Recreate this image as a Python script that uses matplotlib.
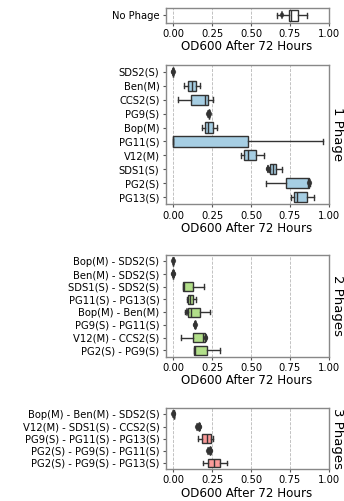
import matplotlib
matplotlib.use("Agg")
import matplotlib.pyplot as plt

# data: whisker low, q1, median, q3, whisker high, fliers
none_labels = ["No Phage"]
none_lo = [0.67]
none_q1 = [0.745]
none_med = [0.76]
none_q3 = [0.805]
none_hi = [0.86]
none_fl = [[0.70]]

one_labels = ["SDS2(S)", "Ben(M)", "CCS2(S)", "PG9(S)", "Bop(M)", "PG11(S)",
              "V12(M)", "SDS1(S)", "PG2(S)", "PG13(S)"]
one_lo = [0.0, 0.065, 0.032, 0.228, 0.185, -0.005, 0.435, 0.615, 0.598, 0.758]
one_q1 = [0.0, 0.092, 0.116, 0.228, 0.203, -0.005, 0.458, 0.620, 0.727, 0.780]
one_med = [0.0, 0.118, 0.204, 0.228, 0.226, -0.005, 0.482, 0.640, 0.867, 0.800]
one_q3 = [0.0, 0.147, 0.224, 0.228, 0.252, 0.479, 0.535, 0.663, 0.877, 0.862]
one_hi = [0.0, 0.169, 0.253, 0.228, 0.284, 0.966, 0.582, 0.699, 0.882, 0.908]
one_fl = [[-0.002, 0.0, 0.002], [], [], [0.224, 0.227, 0.230, 0.233], [], [],
          [], [0.610, 0.613], [0.876, 0.880], []]

two_labels = ["Bop(M) - SDS2(S)", "Ben(M) - SDS2(S)", "SDS1(S) - SDS2(S)",
              "PG11(S) - PG13(S)", "Bop(M) - Ben(M)", "PG9(S) - PG11(S)",
              "V12(M) - CCS2(S)", "PG2(S) - PG9(S)"]
two_lo = [0.0, 0.0, 0.060, 0.088, 0.073, 0.142, 0.050, 0.131]
two_q1 = [0.0, 0.0, 0.062, 0.093, 0.095, 0.142, 0.125, 0.132]
two_med = [0.0, 0.0, 0.066, 0.105, 0.112, 0.142, 0.192, 0.136]
two_q3 = [0.0, 0.0, 0.128, 0.124, 0.170, 0.142, 0.203, 0.217]
two_hi = [0.0, 0.0, 0.194, 0.145, 0.238, 0.142, 0.212, 0.302]
two_fl = [[-0.001, 0.001], [-0.001, 0.0, 0.002, 0.003], [], [], [0.085],
          [0.139, 0.142, 0.145], [0.207, 0.211], []]

three_labels = ["Bop(M) - Ben(M) - SDS2(S)", "V12(M) - SDS1(S) - CCS2(S)",
                "PG9(S) - PG11(S) - PG13(S)", "PG2(S) - PG9(S) - PG11(S)",
                "PG2(S) - PG9(S) - PG13(S)"]
three_lo = [0.003, 0.163, 0.158, 0.235, 0.193]
three_q1 = [0.003, 0.163, 0.186, 0.235, 0.225]
three_med = [0.003, 0.163, 0.217, 0.235, 0.260]
three_q3 = [0.003, 0.163, 0.239, 0.235, 0.302]
three_hi = [0.003, 0.163, 0.256, 0.235, 0.345]
three_fl = [[0.0, 0.003, 0.006], [0.154, 0.159, 0.164, 0.169, 0.174],
            [], [0.226, 0.231, 0.236, 0.241, 0.245], []]

groups = [
    (none_labels, none_lo, none_q1, none_med, none_q3, none_hi, none_fl, "white", None),
    (one_labels, one_lo, one_q1, one_med, one_q3, one_hi, one_fl, "#a6cee3", "1 Phage"),
    (two_labels, two_lo, two_q1, two_med, two_q3, two_hi, two_fl, "#b2df8a", "2 Phages"),
    (three_labels, three_lo, three_q1, three_med, three_q3, three_hi, three_fl, "#fb9a99", "3 Phages"),
]

# axes boxes in pixels: top, bottom
W, H = 344, 501
left_px, right_px = 165.7, 328.5
rows_px = [(8.0, 22.7), (64.7, 204.3), (255.0, 356.7), (408.3, 469.0)]

fig = plt.figure(figsize=(W / 100, H / 100), dpi=100)
edge = "#333333"

for (labels, lo, q1, med, q3, hi, fl, color, title), (top, bot) in zip(groups, rows_px):
    ax = fig.add_axes([left_px / W, 1 - bot / H, (right_px - left_px) / W, (bot - top) / H])
    stats = []
    for i in range(len(labels)):
        stats.append(dict(med=med[i], q1=q1[i], q3=q3[i], whislo=lo[i],
                          whishi=hi[i], fliers=fl[i], label=labels[i]))
    n = len(labels)
    ax.bxp(stats, positions=list(range(n, 0, -1)), vert=False, widths=0.72,
           patch_artist=True,
           boxprops=dict(facecolor=color, edgecolor=edge, linewidth=1.0),
           medianprops=dict(color=edge, linewidth=1.0),
           whiskerprops=dict(color=edge, linewidth=1.0),
           capprops=dict(color=edge, linewidth=1.0),
           flierprops=dict(marker="d", markerfacecolor=edge, markeredgecolor=edge,
                           markersize=3.6, markeredgewidth=0.3))
    ax.set_xlim(-0.05, 1.0)
    ax.set_ylim(0.5, n + 0.5)
    ax.set_xticks([0.0, 0.25, 0.5, 0.75, 1.0])
    ax.set_xticklabels(["0.00", "0.25", "0.50", "0.75", "1.00"])
    ax.xaxis.grid(True, linestyle="--", color="#b8b8b8", linewidth=0.6)
    ax.set_axisbelow(True)
    ax.tick_params(labelsize=7.2, length=2.5, color="#555555", width=0.8, pad=2)
    for s in ax.spines.values():
        s.set_color("#888888")
        s.set_linewidth(1.0)
    ax.set_xlabel("OD600 After 72 Hours", fontsize=8.6, labelpad=1)
    if title:
        ax.text(1.015, 0.5, title, transform=ax.transAxes, rotation=270,
                va="center", ha="left", fontsize=9.5)

fig.savefig("out.png", dpi=100)
